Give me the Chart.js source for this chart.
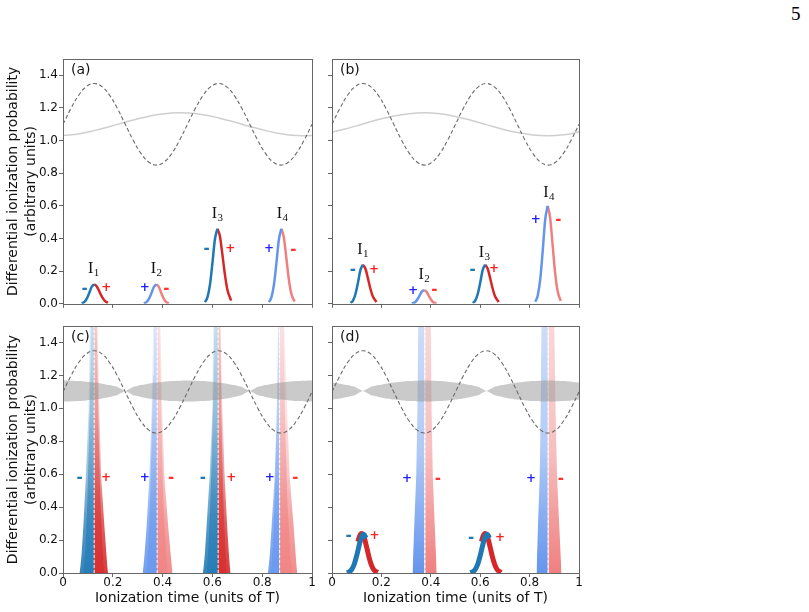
<!DOCTYPE html>
<html>
<head>
<meta charset="utf-8">
<script src="https://cdn.jsdelivr.net/npm/chart.js@4.4.1/dist/chart.umd.min.js"></script>
<style>
  html, body { margin: 0; padding: 0; background: #fff; }
  #page { position: relative; width: 809px; height: 612px; overflow: hidden; }
  .panel { position: absolute; }
  .panel canvas { display: block; }
  #pageNum { position: absolute; left: 791px; top: 4px; font-family: "Liberation Serif", "DejaVu Serif", serif; font-size: 19px; line-height: 1; color: #000; }
</style>
</head>
<body>
<div id="page">
  <div id="pageNum">5</div>
  <div class="panel" style="left:0;top:50px"><canvas id="chartA" width="320" height="262"></canvas></div>
  <div class="panel" style="left:320px;top:50px"><canvas id="chartB" width="270" height="262"></canvas></div>
  <div class="panel" style="left:0;top:316px"><canvas id="chartC" width="320" height="296"></canvas></div>
  <div class="panel" style="left:320px;top:316px"><canvas id="chartD" width="270" height="296"></canvas></div>
</div>
<script>
// ---- datos ----
const xTickLabels = ["0", "0.2", "0.4", "0.6", "0.8", "1"];
const yTickLabels = ["0.0", "0.2", "0.4", "0.6", "0.8", "1.0", "1.2", "1.4"];
const panelNames = ["(a)", "(b)", "(c)", "(d)"];

// campo (linea discontinua), mismo en los 4 paneles
const fieldT = [0, 0.03125, 0.0625, 0.09375, 0.125, 0.15625, 0.1875, 0.21875, 0.25, 0.28125, 0.3125, 0.34375,
  0.375, 0.40625, 0.4375, 0.46875, 0.5, 0.53125, 0.5625, 0.59375, 0.625, 0.65625, 0.6875, 0.71875, 0.75,
  0.78125, 0.8125, 0.84375, 0.875, 0.90625, 0.9375, 0.96875, 1];
const fieldDashed = [1.10, 1.196, 1.277, 1.331, 1.35, 1.331, 1.277, 1.196, 1.10, 1.004, 0.923, 0.869, 0.85,
  0.869, 0.923, 1.004, 1.10, 1.196, 1.277, 1.331, 1.35, 1.331, 1.277, 1.196, 1.10, 1.004, 0.923, 0.869, 0.85,
  0.869, 0.923, 1.004, 1.10];

// envolvente (linea gris clara) en (a) y (b)
const envT = [0, 0.0625, 0.125, 0.1875, 0.25, 0.3125, 0.375, 0.4375, 0.5, 0.5625, 0.625, 0.6875, 0.75, 0.8125, 0.875, 0.9375, 1];
const envA = [1.031, 1.041, 1.061, 1.086, 1.113, 1.138, 1.158, 1.169, 1.169, 1.159, 1.139, 1.114, 1.087, 1.062, 1.042, 1.031, 1.031];
const envB = [1.052, 1.075, 1.102, 1.129, 1.151, 1.165, 1.170, 1.164, 1.148, 1.125, 1.098, 1.071, 1.049, 1.035, 1.030, 1.036, 1.052];

// banda gris en (c) y (d)
const bandCUpper = [1.169, 1.168, 1.166, 1.162, 1.157, 1.150, 1.141, 1.129, 1.105, 1.129, 1.141, 1.150, 1.157, 1.162, 1.166, 1.168, 1.169,
  1.168, 1.166, 1.162, 1.157, 1.150, 1.141, 1.129, 1.105, 1.129, 1.141, 1.150, 1.157, 1.162, 1.166, 1.168, 1.169];
const bandCLower = [1.041, 1.042, 1.044, 1.048, 1.053, 1.060, 1.069, 1.081, 1.105, 1.081, 1.069, 1.060, 1.053, 1.048, 1.044, 1.042, 1.041,
  1.042, 1.044, 1.048, 1.053, 1.060, 1.069, 1.081, 1.105, 1.081, 1.069, 1.060, 1.053, 1.048, 1.044, 1.042, 1.041];
const bandDUpper = [1.157, 1.150, 1.141, 1.129, 1.105, 1.129, 1.141, 1.150, 1.157, 1.162, 1.166, 1.168, 1.169, 1.168, 1.166, 1.162, 1.157,
  1.150, 1.141, 1.129, 1.105, 1.129, 1.141, 1.150, 1.157, 1.162, 1.166, 1.168, 1.169, 1.168, 1.166, 1.162, 1.157];
const bandDLower = [1.053, 1.060, 1.069, 1.081, 1.105, 1.081, 1.069, 1.060, 1.053, 1.048, 1.044, 1.042, 1.041, 1.042, 1.044, 1.048, 1.053,
  1.060, 1.069, 1.081, 1.105, 1.081, 1.069, 1.060, 1.053, 1.048, 1.044, 1.042, 1.041, 1.042, 1.044, 1.048, 1.053];

// picos (a): [t, y]
const aI1Left  = [[0.075, 0.003], [0.085, 0.010], [0.095, 0.030], [0.105, 0.065], [0.115, 0.103], [0.125, 0.12]];
const aI1Right = [[0.125, 0.12], [0.135, 0.108], [0.145, 0.079], [0.155, 0.047], [0.165, 0.023], [0.18, 0.005]];
const aI2Left  = [[0.325, 0.003], [0.335, 0.010], [0.345, 0.030], [0.355, 0.065], [0.365, 0.103], [0.375, 0.12]];
const aI2Right = [[0.375, 0.12], [0.385, 0.103], [0.395, 0.065], [0.405, 0.030], [0.415, 0.010], [0.425, 0.003]];
const aI3Left  = [[0.57, 0.010], [0.58, 0.039], [0.59, 0.115], [0.60, 0.248], [0.61, 0.394], [0.62, 0.46]];
const aI3Right = [[0.62, 0.46], [0.63, 0.415], [0.64, 0.304], [0.65, 0.182], [0.66, 0.088], [0.675, 0.020]];
const aI4Left  = [[0.827, 0.010], [0.837, 0.039], [0.847, 0.115], [0.857, 0.248], [0.867, 0.394], [0.877, 0.46]];
const aI4Right = [[0.877, 0.46], [0.887, 0.406], [0.897, 0.279], [0.907, 0.150], [0.917, 0.062], [0.93, 0.014]];

// picos (b)
const bI1Left  = [[0.075, 0.005], [0.085, 0.020], [0.095, 0.060], [0.105, 0.129], [0.115, 0.206], [0.125, 0.24]];
const bI1Right = [[0.125, 0.24], [0.135, 0.216], [0.145, 0.159], [0.155, 0.095], [0.165, 0.046], [0.18, 0.011]];
const bI2Left  = [[0.323, 0.002], [0.333, 0.007], [0.343, 0.021], [0.353, 0.046], [0.363, 0.073], [0.373, 0.085]];
const bI2Right = [[0.373, 0.085], [0.383, 0.073], [0.393, 0.046], [0.403, 0.021], [0.413, 0.007], [0.423, 0.002]];
const bI3Left  = [[0.57, 0.005], [0.58, 0.020], [0.59, 0.060], [0.60, 0.129], [0.61, 0.206], [0.62, 0.24]];
const bI3Right = [[0.62, 0.24], [0.63, 0.216], [0.64, 0.159], [0.65, 0.095], [0.66, 0.046], [0.675, 0.011]];
const bI4Left  = [[0.823, 0.013], [0.833, 0.051], [0.843, 0.149], [0.853, 0.323], [0.863, 0.514], [0.873, 0.6]];
const bI4Right = [[0.873, 0.6], [0.883, 0.529], [0.893, 0.364], [0.903, 0.195], [0.913, 0.081], [0.926, 0.018]];

// abanicos (c): contorno exterior de cada mitad
const cI1Left  = [[0.066, 0], [0.070, 0.04], [0.075, 0.12], [0.082, 0.29], [0.092, 0.59], [0.103, 1.0], [0.107, 1.5], [0.108, 1.6], [0.125, 1.6], [0.125, 0]];
const cI1Right = [[0.125, 0], [0.125, 1.6], [0.138, 1.6], [0.139, 1.5], [0.146, 1.0], [0.153, 0.59], [0.166, 0.29], [0.174, 0.12], [0.178, 0.04], [0.181, 0]];
const cI2Left  = [[0.32, 0], [0.323, 0.04], [0.328, 0.12], [0.336, 0.29], [0.347, 0.59], [0.356, 1.0], [0.362, 1.5], [0.363, 1.6], [0.378, 1.6], [0.378, 0]];
const cI2Right = [[0.378, 0], [0.378, 1.6], [0.391, 1.6], [0.392, 1.5], [0.398, 1.0], [0.407, 0.59], [0.422, 0.29], [0.432, 0.12], [0.437, 0.04], [0.44, 0]];
const cI3Left  = [[0.562, 0], [0.565, 0.04], [0.570, 0.12], [0.577, 0.29], [0.589, 0.59], [0.60, 1.0], [0.603, 1.5], [0.604, 1.6], [0.623, 1.6], [0.623, 0]];
const cI3Right = [[0.623, 0], [0.623, 1.6], [0.632, 1.6], [0.633, 1.5], [0.64, 1.0], [0.649, 0.59], [0.659, 0.29], [0.666, 0.12], [0.670, 0.04], [0.673, 0]];
const cI4Left  = [[0.823, 0], [0.826, 0.04], [0.831, 0.12], [0.838, 0.29], [0.85, 0.59], [0.859, 1.0], [0.863, 1.5], [0.864, 1.6], [0.870, 1.6], [0.870, 0]];
const cI4Right = [[0.870, 0], [0.870, 1.6], [0.889, 1.6], [0.89, 1.5], [0.90, 1.0], [0.91, 0.59], [0.926, 0.29], [0.934, 0.12], [0.938, 0.04], [0.941, 0]];
// nucleo mas denso de cada abanico (c)
const cI1LeftCore  = [[0.082, 0], [0.09, 0.15], [0.097, 0.4], [0.104, 0.8], [0.11, 1.2], [0.113, 1.6], [0.125, 1.6], [0.125, 0]];
const cI1RightCore = [[0.125, 0], [0.125, 1.6], [0.135, 1.6], [0.139, 1.2], [0.144, 0.8], [0.151, 0.4], [0.159, 0.15], [0.166, 0]];
const cI2LeftCore  = [[0.335, 0], [0.342, 0.15], [0.349, 0.4], [0.356, 0.8], [0.362, 1.2], [0.365, 1.6], [0.378, 1.6], [0.378, 0]];
const cI2RightCore = [[0.378, 0], [0.378, 1.6], [0.389, 1.6], [0.392, 1.2], [0.397, 0.8], [0.404, 0.4], [0.413, 0.15], [0.42, 0]];
const cI3LeftCore  = [[0.577, 0], [0.584, 0.15], [0.591, 0.4], [0.599, 0.8], [0.605, 1.2], [0.608, 1.6], [0.623, 1.6], [0.623, 0]];
const cI3RightCore = [[0.623, 0], [0.623, 1.6], [0.631, 1.6], [0.634, 1.2], [0.638, 0.8], [0.645, 0.4], [0.652, 0.15], [0.658, 0]];
const cI4LeftCore  = [[0.835, 0], [0.842, 0.15], [0.849, 0.4], [0.856, 0.8], [0.862, 1.2], [0.865, 1.6], [0.870, 1.6], [0.870, 0]];
const cI4RightCore = [[0.870, 0], [0.870, 1.6], [0.886, 1.6], [0.889, 1.2], [0.894, 0.8], [0.902, 0.4], [0.912, 0.15], [0.92, 0]];
const cCenters = [0.125, 0.378, 0.623, 0.870];

// columnas (d) y picos gruesos
const dI2Left  = [[0.326, 0], [0.333, 0.29], [0.341, 0.59], [0.346, 1.0], [0.349, 1.5], [0.349, 1.6], [0.375, 1.6], [0.375, 0]];
const dI2Right = [[0.377, 0], [0.377, 1.6], [0.399, 1.6], [0.40, 1.5], [0.403, 1.0], [0.408, 0.59], [0.416, 0.29], [0.424, 0]];
const dI4Left  = [[0.828, 0], [0.834, 0.29], [0.841, 0.59], [0.845, 1.0], [0.848, 1.5], [0.848, 1.6], [0.874, 1.6], [0.874, 0]];
const dI4Right = [[0.876, 0], [0.876, 1.6], [0.899, 1.6], [0.90, 1.5], [0.905, 1.0], [0.911, 0.59], [0.92, 0.29], [0.929, 0]];
const dCenters = [0.376, 0.875];
const dI1Blue = [[0.06, 0.002], [0.07, 0.007], [0.08, 0.022], [0.09, 0.053], [0.10, 0.105], [0.11, 0.168], [0.12, 0.220], [0.128, 0.235], [0.138, 0.212]];
const dI1Red  = [[0.105, 0.190], [0.112, 0.225], [0.12, 0.24], [0.13, 0.216], [0.14, 0.159], [0.15, 0.095], [0.16, 0.046], [0.17, 0.018], [0.185, 0.003]];
const dI3Blue = [[0.56, 0.002], [0.57, 0.007], [0.58, 0.022], [0.59, 0.053], [0.60, 0.105], [0.61, 0.168], [0.62, 0.220], [0.628, 0.235], [0.638, 0.212]];
const dI3Red  = [[0.605, 0.190], [0.612, 0.225], [0.62, 0.24], [0.63, 0.216], [0.64, 0.159], [0.65, 0.095], [0.66, 0.046], [0.67, 0.018], [0.685, 0.003]];

// etiquetas I_n (posicion de la linea base) y signos
const labelDigits = ["1", "2", "3", "4"];
const aLabelT = [0.122, 0.374, 0.619, 0.880];
const aLabelV = [0.19, 0.19, 0.525, 0.525];
const bLabelT = [0.124, 0.372, 0.616, 0.877];
const bLabelV = [0.303, 0.152, 0.289, 0.653];
const signText = ["-", "+", "+", "-", "-", "+", "+", "-"];
const aSignT = [0.087, 0.174, 0.328, 0.415, 0.577, 0.672, 0.827, 0.925];
const aSignV = [0.091, 0.097, 0.097, 0.091, 0.333, 0.338, 0.338, 0.330];
const bSignT = [0.084, 0.170, 0.328, 0.414, 0.569, 0.656, 0.825, 0.916];
const bSignV = [0.206, 0.206, 0.081, 0.081, 0.206, 0.212, 0.515, 0.515];
const cSignT = [0.067, 0.173, 0.328, 0.434, 0.562, 0.676, 0.830, 0.933];
const cSignV = [0.577, 0.577, 0.577, 0.577, 0.577, 0.577, 0.577, 0.577];
const dSignT = [0.067, 0.172, 0.304, 0.429, 0.563, 0.680, 0.806, 0.927];
const dSignV = [0.225, 0.225, 0.569, 0.569, 0.213, 0.213, 0.569, 0.569];

// ---- estilos ----
const DARK_BLUE = "31,119,180";
const RED = "214,39,40";
const LIGHT_BLUE = "100,149,237";
const LIGHT_RED = "240,128,128";
const SIGN_COLORS = ["#1f77b4", "#ff1f1f", "#1f1fff", "#ff3333", "#1f77b4", "#ff1f1f", "#1f1fff", "#ff3333"];
const FONT = "DejaVu Sans";

function pts(pairs) { return pairs.map(p => ({ x: p[0], y: p[1] })); }
function series(ts, ys) { return ts.map((t, i) => ({ x: t, y: ys[i] })); }

function gradient(rgb, stops) {
  return function(c) {
    const area = c.chart.chartArea;
    if (!area) return `rgba(${rgb},0.5)`;
    const g = c.chart.ctx.createLinearGradient(0, area.bottom, 0, area.top);
    stops.forEach(s => g.addColorStop(s[0], `rgba(${rgb},${s[1]})`));
    return g;
  };
}

const OUTER_STOPS = [[0, 0.9], [0.2, 0.75], [0.4, 0.45], [0.65, 0.22], [1, 0.1]];
const CORE_STOPS = [[0, 0.6], [0.3, 0.55], [0.6, 0.35], [1, 0.15]];
const COLUMN_STOPS = [[0, 1], [0.2, 0.8], [0.5, 0.5], [1, 0.32]];

function peakLine(pairs, rgb, width) {
  return { data: pts(pairs), borderColor: `rgb(${rgb})`, borderWidth: width, pointRadius: 0,
    cubicInterpolationMode: "monotone", fill: false };
}
function fan(pairs, rgb, stops) {
  return { data: pts(pairs), borderWidth: 0, pointRadius: 0, tension: 0,
    fill: "origin", backgroundColor: gradient(rgb, stops) };
}
function centerLine(t) {
  return { data: [{ x: t, y: 0 }, { x: t, y: 1.5 }], borderColor: "rgba(255,255,255,0.9)", borderWidth: 1,
    borderDash: [3, 2], pointRadius: 0, fill: false };
}
function dashedField() {
  return { data: series(fieldT, fieldDashed), borderColor: "#6a6a6a", borderWidth: 1.1, borderDash: [4, 2.5],
    pointRadius: 0, tension: 0.4, fill: false };
}
function envLine(ys) {
  return { data: series(envT, ys), borderColor: "#cfcfcf", borderWidth: 1.5, pointRadius: 0, tension: 0.4, fill: false };
}
function band(up, lo) {
  return [
    { data: series(fieldT, up), borderWidth: 0, pointRadius: 0, tension: 0.1, fill: "+1",
      backgroundColor: "rgba(150,150,150,0.5)" },
    { data: series(fieldT, lo), borderWidth: 0, pointRadius: 0, tension: 0.1, fill: false }
  ];
}

// ---- ejes ----
function yAxis(showLabels) {
  return {
    type: "linear", min: 0, max: 1.5,
    border: { display: false },
    grid: { display: true, drawOnChartArea: false, drawTicks: true, tickLength: 4, color: "#666" },
    ticks: { stepSize: 0.2, includeBounds: false, padding: 1, color: "#111",
      font: { family: FONT, size: 12 }, callback: (v, i) => showLabels ? yTickLabels[i] : "" },
    title: showLabels ? { display: true, text: ["Differential ionization probability", "(arbitrary units)"],
      color: "#111", font: { family: FONT, size: 14, lineHeight: 1.3 }, padding: { top: 4, bottom: 0 } } : { display: false },
    afterFit: s => { s.width = showLabels ? 63 : 12; }
  };
}
function xAxis(showLabels) {
  return {
    type: "linear", min: 0, max: 1,
    border: { display: false },
    grid: { display: true, drawOnChartArea: false, drawTicks: true, tickLength: 4, color: "#666" },
    ticks: { stepSize: 0.2, padding: -1.7, maxRotation: 0, autoSkip: false, color: "#111",
      font: { family: FONT, size: 12 }, callback: (v, i) => showLabels ? xTickLabels[i] : "" },
    title: showLabels ? { display: true, text: "Ionization time (units of T)", color: "#111",
      font: { family: FONT, size: 14 }, padding: { top: 0, bottom: 5 } } : { display: false },
    afterFit: s => { s.height = showLabels ? 39 : 5; }
  };
}

// marco, nombre del panel, etiquetas I_n y signos
const figText = {
  id: "figText",
  afterDatasetsDraw(chart, args, opts) {
    const { ctx, chartArea: a, scales } = chart;
    const sx = scales.x, sy = scales.y;
    ctx.save();
    const L = Math.round(a.left), T = Math.round(a.top), R = Math.round(a.right), B = Math.round(a.bottom);
    ctx.strokeStyle = "#666";
    ctx.lineWidth = 1;
    ctx.strokeRect(L + 0.5, T + 0.5, R - L, B - T);

    ctx.fillStyle = "#111";
    ctx.font = `14px "${FONT}"`;
    ctx.textAlign = "left";
    ctx.textBaseline = "middle";
    ctx.fillText(opts.name, L + 8, T + 11);

    if (opts.labelT) {
      opts.labelT.forEach((t, i) => {
        const px = sx.getPixelForValue(t), py = sy.getPixelForValue(opts.labelV[i]);
        ctx.textBaseline = "alphabetic";
        ctx.font = '16px "Liberation Serif"';
        const wI = ctx.measureText("I").width;
        ctx.font = '11px "Liberation Serif"';
        const wD = ctx.measureText(labelDigits[i]).width;
        const x0 = px - (wI + wD) / 2;
        ctx.font = '16px "Liberation Serif"';
        ctx.fillText("I", x0, py);
        ctx.font = '11px "Liberation Serif"';
        ctx.fillText(labelDigits[i], x0 + wI + 0.5, py + 3);
      });
    }

    ctx.textAlign = "center";
    ctx.textBaseline = "middle";
    opts.signT.forEach((t, i) => {
      const px = sx.getPixelForValue(t), py = sy.getPixelForValue(opts.signV[i]);
      ctx.fillStyle = SIGN_COLORS[i];
      ctx.font = signText[i] === "+" ? `bold 12px "${FONT}"` : `bold 15px "${FONT}"`;
      ctx.fillText(signText[i], px, py);
    });
    ctx.restore();
  }
};

function makeChart(id, datasets, left, bottom, pad, text) {
  return new Chart(document.getElementById(id), {
    type: "line",
    data: { datasets },
    options: {
      responsive: false, animation: false, events: [], devicePixelRatio: 1,
      layout: { padding: pad },
      scales: { x: xAxis(bottom), y: yAxis(left) },
      plugins: { legend: { display: false }, tooltip: { enabled: false }, figText: text }
    },
    plugins: [figText]
  });
}

// (a)
makeChart("chartA", [
  peakLine(aI1Left, DARK_BLUE, 2.5), peakLine(aI1Right, RED, 2.5),
  peakLine(aI2Left, LIGHT_BLUE, 2.5), peakLine(aI2Right, LIGHT_RED, 2.5),
  peakLine(aI3Left, DARK_BLUE, 2.5), peakLine(aI3Right, RED, 2.5),
  peakLine(aI4Left, LIGHT_BLUE, 2.5), peakLine(aI4Right, LIGHT_RED, 2.5),
  dashedField(), envLine(envA)
], true, false, { top: 9, right: 8, left: 0, bottom: 0 },
  { name: panelNames[0], labelT: aLabelT, labelV: aLabelV, signT: aSignT, signV: aSignV });

// (b)
makeChart("chartB", [
  peakLine(bI1Left, DARK_BLUE, 2.5), peakLine(bI1Right, RED, 2.5),
  peakLine(bI2Left, LIGHT_BLUE, 2.5), peakLine(bI2Right, LIGHT_RED, 2.5),
  peakLine(bI3Left, DARK_BLUE, 2.5), peakLine(bI3Right, RED, 2.5),
  peakLine(bI4Left, LIGHT_BLUE, 2.5), peakLine(bI4Right, LIGHT_RED, 2.5),
  dashedField(), envLine(envB)
], false, false, { top: 9, right: 11, left: 0, bottom: 0 },
  { name: panelNames[1], labelT: bLabelT, labelV: bLabelV, signT: bSignT, signV: bSignV });

// (c)
makeChart("chartC", [
  dashedField(), ...band(bandCUpper, bandCLower),
  ...cCenters.map(centerLine),
  fan(cI1LeftCore, DARK_BLUE, CORE_STOPS), fan(cI1RightCore, RED, CORE_STOPS),
  fan(cI2LeftCore, LIGHT_BLUE, CORE_STOPS), fan(cI2RightCore, LIGHT_RED, CORE_STOPS),
  fan(cI3LeftCore, DARK_BLUE, CORE_STOPS), fan(cI3RightCore, RED, CORE_STOPS),
  fan(cI4LeftCore, LIGHT_BLUE, CORE_STOPS), fan(cI4RightCore, LIGHT_RED, CORE_STOPS),
  fan(cI1Left, DARK_BLUE, OUTER_STOPS), fan(cI1Right, RED, OUTER_STOPS),
  fan(cI2Left, LIGHT_BLUE, OUTER_STOPS), fan(cI2Right, LIGHT_RED, OUTER_STOPS),
  fan(cI3Left, DARK_BLUE, OUTER_STOPS), fan(cI3Right, RED, OUTER_STOPS),
  fan(cI4Left, LIGHT_BLUE, OUTER_STOPS), fan(cI4Right, LIGHT_RED, OUTER_STOPS)
], true, true, { top: 10, right: 8, left: 0, bottom: 0 },
  { name: panelNames[2], signT: cSignT, signV: cSignV });

// (d)
makeChart("chartD", [
  dashedField(), ...band(bandDUpper, bandDLower),
  ...dCenters.map(centerLine),
  peakLine(dI1Blue, DARK_BLUE, 5), peakLine(dI1Red, RED, 5),
  peakLine(dI3Blue, DARK_BLUE, 5), peakLine(dI3Red, RED, 5),
  fan(dI2Left, LIGHT_BLUE, COLUMN_STOPS), fan(dI2Right, LIGHT_RED, COLUMN_STOPS),
  fan(dI4Left, LIGHT_BLUE, COLUMN_STOPS), fan(dI4Right, LIGHT_RED, COLUMN_STOPS)
], false, true, { top: 10, right: 11, left: 0, bottom: 0 },
  { name: panelNames[3], signT: dSignT, signV: dSignV });
</script>
</body>
</html>
